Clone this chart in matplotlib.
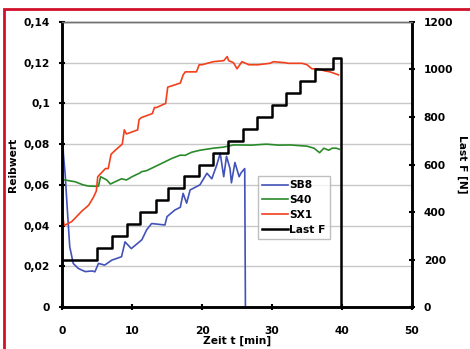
import matplotlib
matplotlib.use("Agg")
import matplotlib.pyplot as plt
from matplotlib.patches import Rectangle
from matplotlib.ticker import FuncFormatter

plt.rcParams['font.family'] = ['DejaVu Sans']
plt.rcParams['font.weight'] = 'bold'

# Reibwert series (time in min)
sb8_t = [0, 0.2, 0.45, 0.67, 1.1, 1.6, 2.3, 3.3, 4.3, 4.7, 5.2, 6.1, 7.1, 8.5, 9.0, 9.9,
         11.4, 12.1, 12.8, 14.7, 15.0, 16.1, 16.9, 17.3, 17.8, 18.3, 19.7, 20.7, 21.4,
         22.1, 22.6, 23.1, 23.5, 24.0, 24.2, 24.7, 25.3, 25.6, 26.1, 26.2]
sb8 = [0.0877, 0.075, 0.065, 0.0525, 0.0296, 0.0214, 0.019, 0.0174, 0.0177, 0.0173,
       0.0214, 0.0206, 0.023, 0.0247, 0.032, 0.0287, 0.033, 0.038, 0.041, 0.0403,
       0.0444, 0.0476, 0.049, 0.0558, 0.051, 0.0575, 0.060, 0.0657, 0.063, 0.0697,
       0.0755, 0.064, 0.074, 0.068, 0.061, 0.071, 0.064, 0.066, 0.068, 0.0]

s40_t = [0, 0.1, 0.4, 1.9, 3.0, 3.8, 4.8, 5.2, 5.5, 6.4, 6.9, 8.5, 9.2, 10.0, 11.1, 11.4,
         12.1, 13.3, 14.5, 15.7, 16.9, 17.6, 18.5, 19.7, 21.6, 23.0, 24.5, 25.4, 27.0,
         29.2, 31.0, 32.6, 35.0, 36.0, 36.8, 37.4, 38.1, 38.6, 39.2, 39.6]
s40 = [0.056, 0.0624, 0.0624, 0.0615, 0.060, 0.0594, 0.0593, 0.0593, 0.064, 0.0624,
       0.0604, 0.063, 0.0624, 0.064, 0.0658, 0.0665, 0.067, 0.069, 0.071, 0.073, 0.0746,
       0.0745, 0.076, 0.077, 0.078, 0.0785, 0.0796, 0.0796, 0.0795, 0.080, 0.0795,
       0.0796, 0.079, 0.078, 0.0758, 0.078, 0.077, 0.078, 0.078, 0.0775]

sx1_t = [0, 0.3, 1.4, 2.8, 3.8, 4.5, 4.9, 5.1, 6.2, 6.6, 7.0, 7.6, 8.6, 8.9, 9.2, 10.0,
         10.8, 11.0, 11.3, 12.9, 13.2, 13.5, 14.8, 15.1, 16.9, 17.3, 17.6, 19.2, 19.6,
         20.0, 21.6, 23.1, 23.6, 23.8, 24.5, 25.0, 25.4, 25.7, 26.7, 28.0, 29.7, 30.2,
         31.9, 32.3, 34.3, 35.0, 35.7, 36.6, 37.5, 38.3, 39.5]
sx1 = [0.047, 0.040, 0.042, 0.047, 0.050, 0.054, 0.057, 0.064, 0.068, 0.068, 0.075,
       0.077, 0.080, 0.087, 0.085, 0.086, 0.087, 0.092, 0.093, 0.095, 0.098, 0.098,
       0.100, 0.108, 0.110, 0.114, 0.1155, 0.1155, 0.119, 0.119, 0.1205, 0.121, 0.123,
       0.121, 0.120, 0.117, 0.119, 0.1205, 0.119, 0.119, 0.1197, 0.1205, 0.120, 0.1197,
       0.1197, 0.119, 0.117, 0.117, 0.116, 0.1155, 0.114]

# Last F [N], step changes
last_t = [0, 5.0, 7.1, 9.3, 11.2, 13.4, 15.2, 17.4, 19.5, 21.6, 23.7, 25.8, 27.9, 30.0,
          32.0, 34.0, 36.1, 38.7, 39.8, 39.8]
last_f = [200, 250, 300, 350, 400, 450, 500, 550, 600, 650, 700, 750, 800, 850, 900,
          950, 1000, 1050, 1050, 0]

c_blue = '#4252b8'
c_green = '#2a8a2a'
c_red = '#f2401c'
fs = 7.7

fig = plt.figure(figsize=(4.7, 3.49), dpi=100)
ax = fig.add_axes([0.132, 0.1203, 0.7446, 0.8167])
ax2 = ax.twinx()

l1, = ax.plot(sb8_t, sb8, color=c_blue, lw=1.2, label='SB8')
l2, = ax.plot(s40_t, s40, color=c_green, lw=1.2, label='S40')
l3, = ax.plot(sx1_t, sx1, color=c_red, lw=1.2, label='SX1')
l4, = ax2.step(last_t, last_f, where='post', color='black', lw=1.8, label='Last F')

ax.set_xlim(0, 50)
ax.set_ylim(0, 0.14)
ax.set_xticks([0, 10, 20, 30, 40, 50])
ax.set_yticks([0, 0.02, 0.04, 0.06, 0.08, 0.1, 0.12, 0.14])
ax.yaxis.set_major_formatter(FuncFormatter(lambda v, _: ('%g' % v).replace('.', ',')))
ax.grid(axis='y', color='#c8c8c8', lw=1)
ax.set_axisbelow(True)

ax2.set_ylim(0, 1200)
ax2.set_yticks(range(0, 1201, 200))

for a in (ax, ax2):
    a.tick_params(direction='inout', length=5, width=1.5, labelsize=fs, pad=6)
    for s in a.spines.values():
        s.set_linewidth(1.8)
        s.set_color('black')
    a.spines['top'].set_color('#707070')
    a.spines['top'].set_linewidth(1)
ax.tick_params(axis='x', pad=11)

ax.set_xlabel('Zeit t [min]', fontsize=fs, fontweight='bold', labelpad=0)
ax.set_ylabel('Reibwert', fontsize=fs, fontweight='bold', labelpad=4)
ax2.set_ylabel('Last F [N]', fontsize=fs, fontweight='bold', rotation=270, labelpad=10)

leg = ax2.legend(handles=[l1, l2, l3, l4], loc='upper left', bbox_to_anchor=(0.545, 0.478),
                 fontsize=fs, frameon=True, fancybox=False, edgecolor='#b0b0b0',
                 handlelength=2.4, handletextpad=0.1, labelspacing=0.45, borderpad=0.4)
leg.get_frame().set_linewidth(1)

fig.patches.append(Rectangle((0.009, -0.5), 1.5, 0.5 + 0.974, transform=fig.transFigure,
                             fill=False, edgecolor='#d2102a', lw=2, clip_on=False))

fig.savefig('out.png', dpi=100)
